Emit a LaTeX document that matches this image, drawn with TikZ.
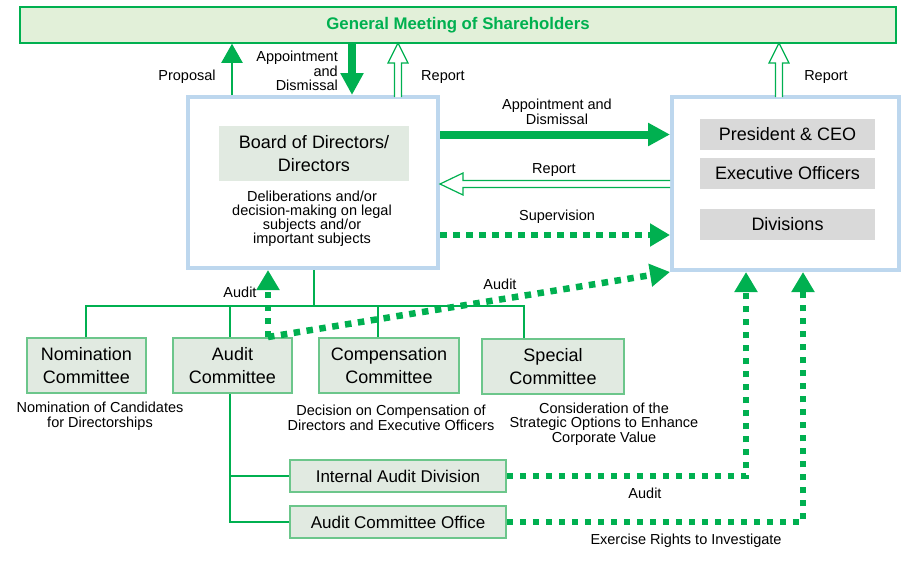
\documentclass[tikz,border=0pt]{standalone}
\usepackage{fontspec}
\setmainfont{Liberation Sans}
\usetikzlibrary{arrows.meta}

\definecolor{govgreen}{HTML}{00B050}
\definecolor{gmfill}{HTML}{E2F0D9}
\definecolor{boxblue}{HTML}{BDD7EE}
\definecolor{commfill}{HTML}{E1EAE1}
\definecolor{commline}{HTML}{6CC68B}
\definecolor{officegray}{HTML}{D9D9D9}

\tikzset{gm box/.style={draw=govgreen,fill=gmfill,line width=1.5pt,minimum width=876pt,minimum height=36pt,inner sep=0pt,text=govgreen,font=\fontsize{16.8}{22}\selectfont\bfseries},
organ box/.style={draw=boxblue,fill=white,line width=4pt,inner sep=0pt},
title box/.style={fill=commfill,minimum width=190pt,minimum height=55pt,inner sep=0pt,align=center,font=\fontsize{18}{23}\selectfont},
exec item/.style={fill=officegray,minimum width=175pt,minimum height=31pt,inner sep=0pt,font=\fontsize{18}{22}\selectfont},
committee/.style={draw=commline,fill=commfill,line width=1.5pt,minimum height=55pt,inner sep=0pt,align=center,font=\fontsize{18}{23}\selectfont},
division/.style={draw=commline,fill=commfill,line width=1.5pt,minimum width=216pt,minimum height=32pt,inner sep=0pt,font=\fontsize{17}{20}\selectfont},
note/.style={inner sep=0pt,align=center,font=\fontsize{14.5}{14.5}\selectfont},
tree line/.style={draw=govgreen,line width=1.5pt},
thin arrow/.style={draw=govgreen,line width=2pt,-{Triangle[width=21pt,length=19pt]}},
thick arrow/.style={draw=govgreen,line width=8pt,-{Triangle[width=22pt,length=22pt]}},
dotted arrow/.style={draw=govgreen,line width=6.5pt,dash pattern=on 6.5pt off 6.5pt,-{Triangle[width=22pt,length=20pt]}},
hollow arrow/.style={draw=govgreen,fill=white,line width=1.2pt,line join=miter}}

\begin{document}
\begin{tikzpicture}[x=1pt,y=-1pt]
\useasboundingbox (0,0) rectangle (920,570);

%% General Meeting of Shareholders
\node [gm box] (gm) at (458,25) {General Meeting of Shareholders};

%% Board of Directors
\node [organ box,minimum width=250pt,minimum height=171pt] (board) at (313,182.5) {};
\node [title box] (boardtitle) at (314,153.5) {Board of Directors/\\Directors};
\node [note,font=\fontsize{14.5}{14}\selectfont] (boarddesc) at (312,219) {Deliberations and/or\\decision-making on legal\\subjects and/or\\important subjects};

%% Executive side
\node [organ box,minimum width=227pt,minimum height=173pt] (exec) at (785.5,183.5) {};
\node [exec item] (ceo) at (787.5,134.5) {President \& CEO};
\node [exec item] (officers) at (787.5,173.5) {Executive Officers};
\node [exec item] (divisions) at (787.5,224.5) {Divisions};

%% committees
\node [committee,minimum width=119pt] (nomination) at (86.5,365.5) {Nomination\\Committee};
\node [committee,minimum width=119pt] (audit) at (232.5,365.5) {Audit\\Committee};
\node [committee,minimum width=140pt] (compensation) at (389,365.5) {Compensation\\Committee};
\node [committee,minimum width=142pt] (special) at (553,366.5) {Special\\Committee};

\node [note] (nomdesc) at (100,416) {Nomination of Candidates\\for Directorships};
\node [note] (compdesc) at (391,418) {Decision on Compensation of\\Directors and Executive Officers};
\node [note] (specdesc) at (604,424) {Consideration of the\\Strategic Options to Enhance\\Corporate Value};

%% audit staff
\node [division] (iad) at (398,476) {Internal Audit Division};
\node [division] (office) at (398,522) {Audit Committee Office};

%% Coordinates of connector ends
\coordinate (boardfoot) at (314,306);
\coordinate (nomtop) at (86,306);
\coordinate (audtop) at (230,306);
\coordinate (comptop) at (378,306);
\coordinate (spectop) at (524,306);
\coordinate (audfoot) at (268,337);
\coordinate (iadup) at (746,272);
\coordinate (officeup) at (803,272);
\coordinate (prop) at (232,95);
\coordinate (appt) at (352,43);
\coordinate (superv) at (438,235);
\coordinate (rep1foot) at (398,97);
\coordinate (rep2foot) at (779,97);
\coordinate (rep3foot) at (670,184);

%% tree lines
\draw [tree line] (board.south -| boardfoot) -- (boardfoot);
\draw [tree line] (nomination.north -| nomtop) -- (nomtop) -- (spectop) -- (special.north -| spectop);
\draw [tree line] (audtop) -- (audit.north -| audtop);
\draw [tree line] (comptop) -- (compensation.north -| comptop);
\draw [tree line] (audit.south -| audtop) -- (office.west -| audtop) -- (office.west);
\draw [tree line] (iad.west -| audtop) -- (iad.west);

%% solid arrows
\draw [thin arrow] (prop) -- (gm.south -| prop);
\draw [thick arrow] (appt) -- (board.north -| appt);
\draw [thick arrow] (board.east |- ceo) -- (exec.west |- ceo);

%% hollow arrows (report)
\draw [hollow arrow] (rep1foot) ++(-3.5,0) -- ++(0,-34) -- ++(-6.5,0) -- ++(10,-20) -- ++(10,20) -- ++(-6.5,0) -- ++(0,34);
\draw [hollow arrow] (rep2foot) ++(-3.5,0) -- ++(0,-34) -- ++(-6.5,0) -- ++(10,-20) -- ++(10,20) -- ++(-6.5,0) -- ++(0,34);
\draw [hollow arrow] (rep3foot) ++(0,-3.5) -- ++(-207,0) -- ++(0,-7.5) -- ++(-23,11) -- ++(23,11) -- ++(0,-7.5) -- ++(207,0);

%% dotted arrows
\draw [dotted arrow] (board.east |- superv) -- (exec.west |- superv);
\draw [dotted arrow] (audfoot) -- (audfoot |- board.south);
\draw [dotted arrow] (audfoot) -- (exec.south west);
\draw [dotted arrow] (iad.east) -| (iadup);
\draw [dotted arrow] (office.east) -| (officeup);

%% connector labels
\node [note] (lproposal) at (187,77) {Proposal};
\node [note,align=right,anchor=east] (lappt) at (338,71) {Appointment\\and\\Dismissal};
\node [note] (lreport1) at (443,77) {Report};
\node [note] (lreport2) at (826,77) {Report};
\node [note] (lappt2) at (557,112) {Appointment and\\Dismissal};
\node [note] (lreport3) at (554,170) {Report};
\node [note] (lsuper) at (557,217) {Supervision};
\node [note] (laudit1) at (240,292) {Audit};
\node [note] (laudit2) at (500,284) {Audit};
\node [note] (laudit3) at (645,493) {Audit};
\node [note] (linvest) at (686,541) {Exercise Rights to Investigate};

\end{tikzpicture}
\end{document}
